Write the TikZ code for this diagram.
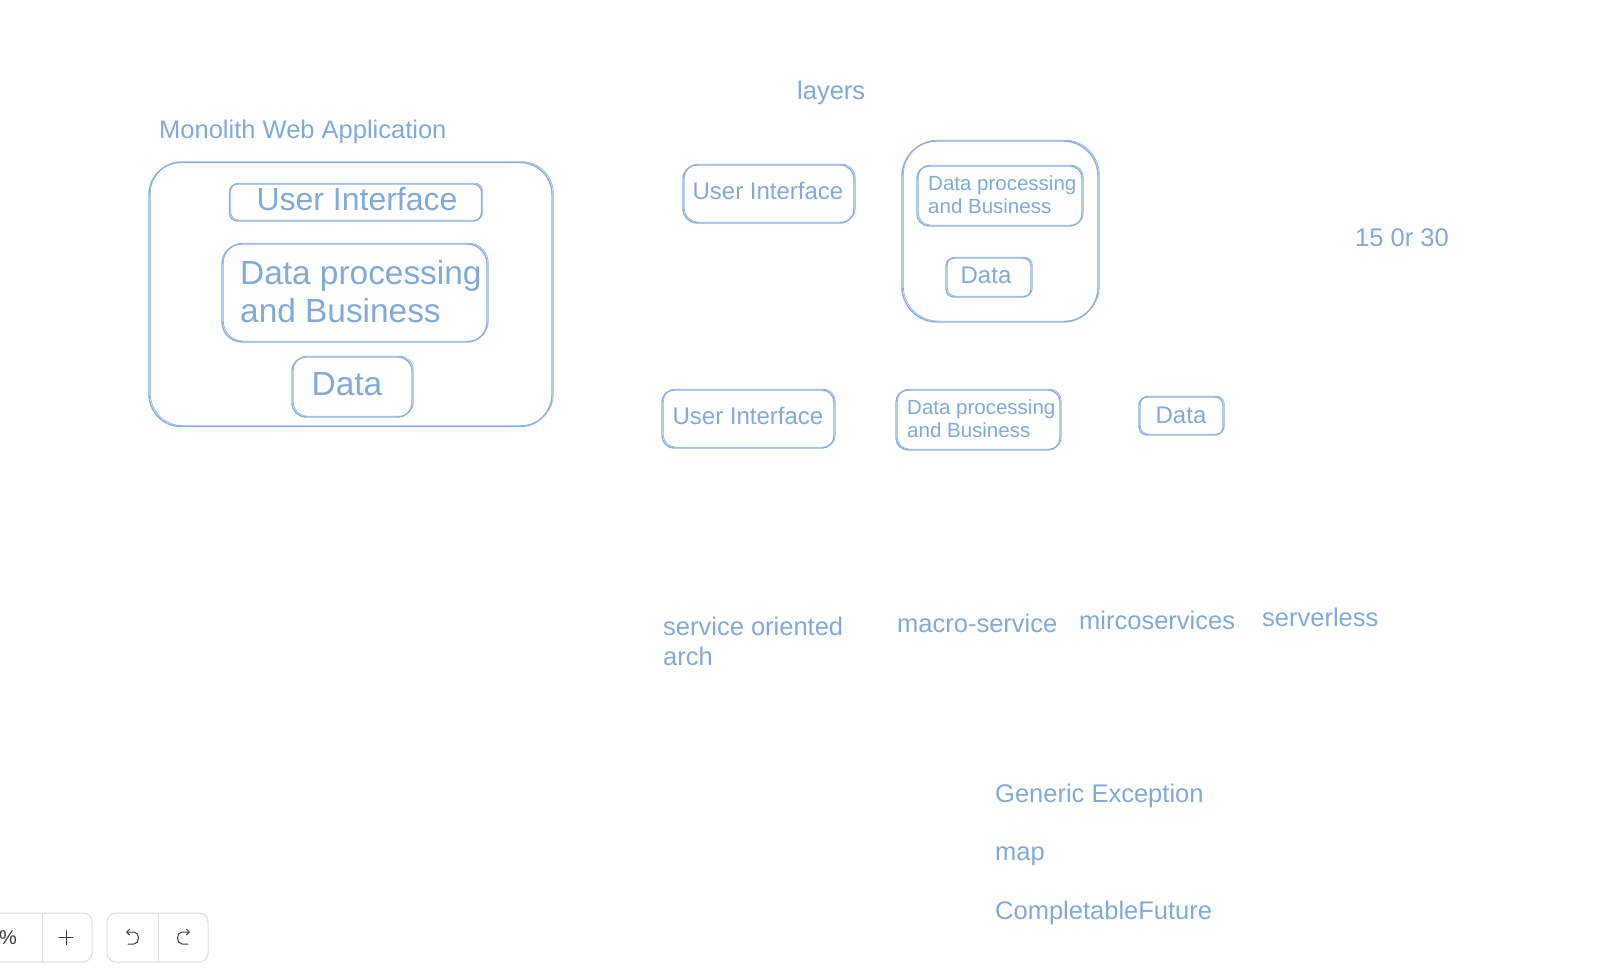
\documentclass[tikz,border=0pt]{standalone}
\usepackage{fontspec}
\setmainfont{Liberation Sans}
\usetikzlibrary{arrows.meta}
\definecolor{bl}{RGB}{128,170,216}
\definecolor{bll}{RGB}{138,178,221}
\definecolor{tbg}{RGB}{220,220,220}
\definecolor{tic}{RGB}{60,60,60}
\begin{document}
\begin{tikzpicture}[x=1pt,y=-1pt,
  sk/.style={draw=bll, line width=1.4pt, rounded corners=#1pt, inner sep=0pt,
    postaction={draw=bll, line width=0.7pt, transform canvas={xshift=1.3pt,yshift=0.9pt}}},
  lbl/.style={text=bl, inner sep=0pt, anchor=base west, align=left, font=\fontsize{25.5}{29.5}\selectfont},
  big/.style={text=bl, inner sep=0pt, anchor=base, font=\fontsize{32}{37.5}\selectfont},
  bigd/.style={text=bl, inner sep=0pt, anchor=base, font=\fontsize{33.5}{38}\selectfont},
  bigl/.style={text=bl, inner sep=0pt, anchor=base west, align=left, font=\fontsize{33.4}{38}\selectfont},
  mid/.style={text=bl, inner sep=0pt, anchor=base, font=\fontsize{24}{28}\selectfont},
  sml/.style={text=bl, inner sep=0pt, anchor=base west, align=left, font=\fontsize{20.5}{22.5}\selectfont},
  tb/.style={draw=tbg, line width=1pt, rounded corners=9pt, inner sep=0pt, minimum height=49pt},
  tbi/.style={draw=tic, line width=1.1pt, line cap=round}
]
\useasboundingbox (0,0) rectangle (1600,979);

% Monolith
\node[lbl] (montitle) at (159,139) {Monolith Web Application};
\node[sk=32, minimum width=403pt, minimum height=264pt] (mono) at (350.5,294.5) {};
\node[sk=8, minimum width=252pt, minimum height=37pt] (mui) at (355.5,202.5) {};
\node[big] (muit) at (357,210) {User Interface};
\node[sk=20, minimum width=265pt, minimum height=98pt] (mdp) at (354.5,293) {};
\node[bigl] (mdpt) at (240,322) {Data processing\\and Business};
\node[sk=14, minimum width=120pt, minimum height=60pt] (mdata) at (352,387) {};
\node[bigd] (mdatat) at (347,395) {Data};

% layers
\node[lbl] (layers) at (797,100) {layers};
\node[sk=14, minimum width=171pt, minimum height=58pt] (lui) at (768.5,194) {};
\node[mid] (luit) at (768,199) {User Interface};
\node[sk=35, minimum width=196pt, minimum height=181pt] (lcont) at (1000,231.5) {};
\node[sk=12, minimum width=165pt, minimum height=60pt] (ldp) at (999.5,196) {};
\node[sml] (ldpt) at (928,213) {Data processing\\and Business};
\node[sk=8, minimum width=85pt, minimum height=39pt] (ldata) at (988.5,277.5) {};
\node[mid] (ldatat) at (986,283) {Data};

\node[lbl] (fifteen) at (1355,246) {15 0r 30};

% bottom row
\node[sk=12, minimum width=172pt, minimum height=58pt] (bui) at (748,419) {};
\node[mid] (buit) at (748,424) {User Interface};
\node[sk=12, minimum width=164pt, minimum height=60pt] (bdp) at (978,420) {};
\node[sml] (bdpt) at (907,437) {Data processing\\and Business};
\node[sk=8, minimum width=84pt, minimum height=38pt] (bdata) at (1181,416) {};
\node[mid] (bdatat) at (1181,423) {Data};

% labels
\node[lbl] (soa) at (663,665) {service oriented\\arch};
\node[lbl] (macro) at (897,632) {macro-service};
\node[lbl] (micro) at (1079,629) {mircoservices};
\node[lbl] (srvless) at (1262,626) {serverless};
\node[lbl] (genexc) at (995,802) {Generic Exception};
\node[lbl] (mapt) at (995,860) {map};
\node[lbl] (cfut) at (995,919) {CompletableFuture};

% toolbar
\node[tb, minimum width=132pt] (tb1) at (26,937.5) {};
\node[tb, minimum width=101pt] (tb2) at (157.5,937.5) {};
\draw[tbg, line width=1pt] (42,913) -- (42,962);
\draw[tbg, line width=1pt] (158,913) -- (158,962);
\node[text=tic, inner sep=0pt, font=\fontsize{20}{24}\selectfont] (pct) at (8,938) {\%};
\draw[tbi, line width=1pt] (59,937.5) -- (73,937.5) (66,930.5) -- (66,944.5);
\draw[tbi, line width=1pt, -{Straight Barb[length=3pt,width=6pt]}] (128,944) -- (134,944) .. controls (140,944) and (140,932) .. (134,932) -- (126,932);
\draw[tbi, line width=1pt, -{Straight Barb[length=3pt,width=6pt]}] (188,944) -- (182,944) .. controls (176,944) and (176,932) .. (182,932) -- (190,932);
\end{tikzpicture}
\end{document}
